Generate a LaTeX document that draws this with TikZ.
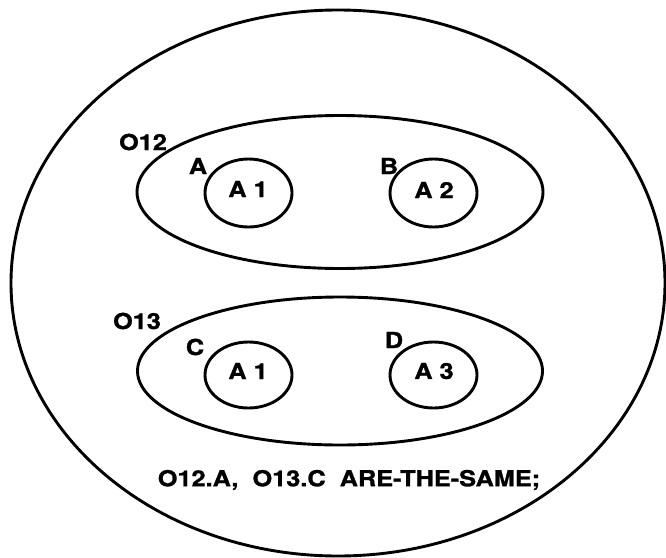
\documentclass[tikz,border=0pt]{standalone}
\usepackage{fontspec}
\setmainfont{TeX Gyre Heros}[FakeStretch=1.15,BoldFeatures={FakeBold=1.2}]
\usetikzlibrary{shapes.geometric}
\begin{document}
\begin{tikzpicture}[x=1pt,y=-1pt,
  outline/.style={draw=black,line width=2.9pt,ellipse,inner sep=0pt},
  attr/.style={outline,minimum width=87pt,minimum height=68pt},
  txt/.style={font=\fontsize{22}{24}\selectfont\bfseries,inner sep=0pt}]
\useasboundingbox (0,0) rectangle (666,557);
% universe of discourse
\node[outline,minimum width=654pt,minimum height=546pt] (world) at (338,283) {};
% object O12 with its attributes
\node[outline,minimum width=406pt,minimum height=153pt] (o12) at (340,192) {};
\node[attr] (a1) at (248.5,193) {};
\node[attr] (a2) at (433.5,193) {};
\node[txt] (a1t) at (248,189) {A 1};
\node[txt] (a2t) at (434,190) {A 2};
\node[txt] (o12l) at (143,142) {O12};
\node[txt] (la) at (198,166) {A};
\node[txt] (lb) at (389,166) {B};
% object O13 with its attributes
\node[outline,minimum width=405pt,minimum height=148pt] (o13) at (340,371) {};
\node[attr,minimum height=66pt] (a1b) at (248.5,375) {};
\node[attr,minimum height=66pt] (a3) at (433.5,375) {};
\node[txt] (a1bt) at (248,371) {A 1};
\node[txt] (a3t) at (434,371) {A 3};
\node[txt] (o13l) at (137,321) {O13};
\node[txt] (lc) at (195,347) {C};
\node[txt] (ld) at (394,340) {D};
% constraint statement
\node[txt] (stmt) at (349,480) {O12.A,\ \ O13.C\ \ ARE-THE-SAME;};
\end{tikzpicture}
\end{document}
